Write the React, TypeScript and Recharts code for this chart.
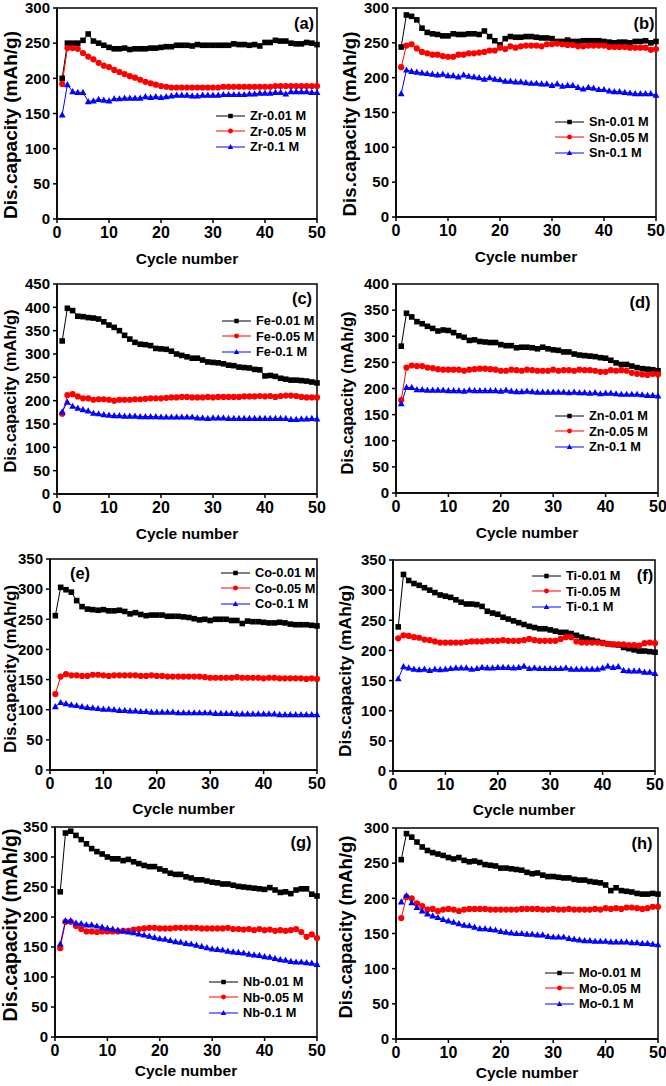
import React from "react";
import { Legend, Line, LineChart, ReferenceArea, XAxis, YAxis } from "recharts";

const FONT = '"Liberation Sans", Arial, Helvetica, sans-serif';

const cycles = [
  1, 2, 3, 4, 5, 6, 7, 8, 9, 10, 11, 12, 13, 14, 15, 16, 17, 18, 19, 20, 21, 22, 23, 24, 25,
  26, 27, 28, 29, 30, 31, 32, 33, 34, 35, 36, 37, 38, 39, 40, 41, 42, 43, 44, 45, 46, 47, 48, 49, 50,
];
const xTicks = [0, 10, 20, 30, 40, 50];

// (a) Zr
const zr001 = [200, 250, 250, 250, 254, 263, 253, 250, 247, 244, 242, 242, 243, 241, 242, 242, 242, 243, 243, 244, 245, 245, 247, 247, 247, 246, 248, 247, 247, 247, 247, 247, 247, 249, 248, 248, 247, 248, 246, 251, 251, 254, 253, 253, 250, 249, 249, 251, 250, 248];
const zr005 = [192, 243, 243, 242, 236, 231, 227, 222, 218, 216, 212, 209, 206, 203, 201, 198, 195, 193, 191, 189, 188, 187, 187, 187, 187, 187, 187, 187, 187, 187, 187, 188, 188, 188, 188, 188, 188, 188, 188, 188, 188, 189, 189, 189, 189, 189, 189, 189, 189, 189];
const zr01 = [148, 191, 181, 180, 180, 167, 168, 170, 169, 168, 171, 171, 172, 172, 172, 172, 174, 173, 174, 173, 174, 175, 176, 176, 176, 175, 175, 176, 176, 176, 176, 177, 177, 177, 177, 177, 178, 178, 179, 179, 179, 180, 180, 178, 181, 181, 181, 181, 180, 180];

// (b) Sn
const sn001 = [244, 290, 288, 283, 271, 265, 263, 262, 260, 260, 263, 262, 262, 263, 263, 262, 267, 259, 253, 247, 256, 259, 258, 258, 259, 259, 258, 257, 257, 256, 252, 252, 254, 252, 252, 253, 253, 253, 253, 252, 251, 250, 251, 251, 250, 252, 252, 253, 250, 252];
const sn005 = [215, 246, 248, 242, 237, 235, 233, 233, 231, 230, 230, 233, 233, 235, 235, 236, 237, 239, 239, 243, 241, 245, 243, 245, 246, 246, 246, 245, 248, 248, 249, 248, 247, 247, 245, 245, 246, 246, 246, 246, 244, 244, 244, 244, 243, 243, 243, 243, 240, 241];
const sn01 = [177, 211, 209, 208, 207, 206, 205, 204, 205, 203, 203, 201, 204, 202, 201, 200, 198, 200, 198, 197, 195, 195, 194, 194, 193, 192, 192, 191, 191, 189, 191, 188, 189, 189, 186, 184, 186, 185, 183, 183, 181, 180, 180, 179, 178, 177, 177, 177, 177, 175];

// (c) Fe
const fe001 = [328, 398, 393, 381, 380, 378, 377, 375, 369, 362, 357, 350, 340, 332, 325, 321, 320, 318, 312, 311, 310, 306, 300, 297, 294, 291, 291, 287, 283, 282, 281, 279, 276, 275, 272, 271, 270, 267, 266, 253, 254, 252, 248, 246, 244, 244, 243, 242, 240, 238];
const fe005 = [172, 212, 214, 209, 205, 205, 202, 203, 203, 202, 200, 202, 202, 202, 203, 203, 204, 205, 205, 205, 206, 207, 207, 208, 208, 207, 207, 207, 208, 207, 208, 208, 208, 208, 208, 209, 209, 209, 210, 209, 210, 208, 210, 211, 211, 210, 208, 207, 207, 207];
const fe01 = [176, 197, 188, 184, 181, 178, 173, 172, 170, 169, 168, 168, 167, 167, 167, 166, 166, 166, 166, 165, 165, 165, 165, 165, 165, 165, 163, 163, 162, 163, 163, 163, 162, 162, 162, 162, 162, 162, 162, 162, 162, 162, 162, 162, 160, 160, 161, 161, 162, 161];

// (d) Zn
const zn001 = [281, 344, 337, 328, 324, 319, 315, 310, 312, 311, 307, 301, 298, 292, 293, 290, 289, 288, 288, 284, 282, 282, 278, 279, 279, 278, 276, 279, 276, 274, 273, 270, 270, 266, 264, 263, 262, 261, 259, 258, 254, 249, 246, 246, 243, 240, 238, 237, 236, 234];
const zn005 = [178, 240, 244, 243, 243, 240, 239, 237, 236, 236, 236, 236, 234, 236, 237, 238, 238, 237, 236, 234, 234, 236, 235, 234, 236, 235, 234, 234, 234, 236, 234, 235, 235, 234, 236, 235, 235, 234, 232, 232, 235, 234, 235, 234, 230, 228, 227, 226, 228, 227];
const zn01 = [171, 202, 202, 198, 198, 197, 197, 197, 197, 196, 196, 196, 195, 197, 196, 196, 196, 196, 196, 195, 197, 195, 194, 194, 195, 194, 193, 193, 193, 193, 193, 193, 192, 193, 192, 192, 191, 192, 190, 191, 191, 190, 189, 189, 189, 189, 188, 187, 187, 186];

// (e) Co
const co001 = [256, 303, 299, 295, 281, 271, 267, 266, 265, 266, 264, 264, 265, 263, 259, 261, 258, 256, 257, 257, 257, 255, 255, 255, 254, 253, 251, 249, 250, 248, 250, 250, 250, 248, 248, 243, 247, 246, 246, 245, 244, 244, 245, 244, 242, 241, 241, 241, 240, 239];
const co005 = [126, 155, 159, 157, 157, 156, 156, 158, 158, 157, 156, 157, 157, 157, 157, 157, 156, 156, 157, 156, 156, 155, 155, 155, 155, 155, 155, 155, 154, 153, 153, 153, 153, 153, 154, 153, 153, 153, 153, 152, 153, 153, 152, 152, 152, 152, 152, 151, 152, 151];
const co01 = [105, 112, 110, 108, 107, 105, 104, 103, 102, 101, 101, 100, 99, 99, 98, 98, 97, 97, 96, 96, 96, 96, 96, 95, 95, 95, 95, 95, 95, 95, 94, 94, 94, 94, 93, 93, 93, 93, 93, 93, 93, 93, 92, 92, 92, 92, 92, 92, 92, 92];

// (f) Ti
const ti001 = [239, 326, 316, 311, 308, 304, 300, 296, 292, 290, 288, 284, 280, 277, 277, 276, 273, 265, 262, 260, 255, 252, 249, 246, 243, 240, 238, 236, 236, 234, 232, 230, 230, 228, 225, 222, 219, 217, 215, 213, 211, 210, 209, 205, 203, 201, 199, 199, 198, 197];
const ti005 = [220, 225, 224, 222, 221, 218, 217, 215, 213, 213, 213, 213, 213, 214, 215, 215, 215, 216, 216, 216, 217, 216, 216, 216, 217, 219, 217, 216, 216, 216, 216, 219, 222, 222, 215, 213, 213, 213, 213, 212, 211, 210, 210, 210, 209, 209, 208, 212, 213, 212];
const ti01 = [153, 173, 171, 169, 168, 169, 167, 169, 168, 169, 170, 171, 171, 171, 169, 170, 172, 171, 171, 172, 172, 172, 171, 172, 174, 170, 171, 170, 170, 170, 170, 170, 171, 169, 169, 169, 169, 169, 169, 171, 174, 172, 173, 167, 166, 166, 166, 164, 164, 162];

// (g) Nb
const nb001 = [242, 340, 343, 336, 329, 322, 314, 309, 305, 300, 297, 297, 294, 296, 292, 289, 286, 284, 284, 280, 277, 273, 271, 271, 267, 265, 262, 262, 260, 258, 257, 255, 255, 253, 251, 250, 249, 248, 247, 246, 249, 245, 241, 242, 239, 245, 247, 247, 238, 235];
const nb005 = [148, 192, 192, 185, 180, 176, 176, 175, 176, 176, 176, 176, 177, 177, 179, 180, 181, 182, 182, 181, 181, 181, 182, 182, 182, 182, 182, 181, 181, 181, 181, 181, 182, 180, 180, 179, 180, 178, 180, 178, 179, 177, 178, 177, 178, 180, 175, 167, 171, 165];
const nb01 = [155, 194, 194, 190, 189, 187, 187, 185, 183, 181, 180, 178, 177, 175, 174, 172, 170, 168, 166, 164, 163, 161, 159, 158, 156, 155, 153, 151, 149, 147, 146, 145, 143, 142, 141, 140, 138, 137, 136, 134, 133, 131, 129, 128, 126, 125, 125, 124, 123, 121];

// (h) Mo
const mo001 = [255, 292, 287, 280, 273, 268, 265, 263, 261, 258, 256, 258, 254, 252, 253, 251, 248, 247, 246, 243, 243, 242, 241, 240, 237, 235, 236, 233, 231, 231, 230, 229, 229, 227, 226, 226, 224, 223, 222, 219, 211, 215, 211, 210, 209, 207, 206, 206, 207, 206];
const mo005 = [172, 202, 200, 193, 189, 184, 185, 182, 184, 185, 184, 182, 184, 185, 185, 185, 185, 184, 184, 184, 184, 184, 184, 185, 185, 185, 185, 184, 184, 185, 184, 184, 185, 184, 184, 184, 184, 185, 184, 186, 185, 186, 185, 187, 187, 186, 185, 186, 188, 188];
const mo01 = [195, 204, 194, 187, 182, 178, 175, 173, 170, 168, 166, 164, 162, 161, 159, 157, 157, 156, 155, 153, 152, 151, 150, 150, 149, 149, 148, 148, 146, 145, 145, 145, 143, 142, 141, 140, 140, 139, 139, 139, 138, 138, 138, 138, 137, 137, 136, 136, 135, 134];

const concentrations = ["0.01 M", "0.05 M", "0.1 M"];
const seriesColors = ["#000000", "#ff0000", "#0000ff"];

type Shape = "square" | "circle" | "triangle";
const shapes: Shape[] = ["square", "circle", "triangle"];

type Panel = {
  tag: string;
  metal: string;
  yMax: number;
  values: number[][];
  plot: { l: number; r: number; t: number; b: number };
  legend: { x: number; y: number };
  tagPos: { x: number; y: number };
  yTitle: { x: number; y: number; size: number };
  xTitleGap: number;
};

const panels: Panel[] = [
  { tag: "(a)", metal: "Zr", yMax: 300, values: [zr001, zr005, zr01], plot: { l: 57, r: 317, t: 8, b: 219 }, legend: { x: 216, y: 116 }, tagPos: { x: 304, y: 23 }, yTitle: { x: 10, y: 125, size: 19 }, xTitleGap: 39 },
  { tag: "(b)", metal: "Sn", yMax: 300, values: [sn001, sn005, sn01], plot: { l: 396, r: 656, t: 8, b: 217 }, legend: { x: 555, y: 122 }, tagPos: { x: 644, y: 23 }, yTitle: { x: 349, y: 124, size: 18.7 }, xTitleGap: 39 },
  { tag: "(c)", metal: "Fe", yMax: 450, values: [fe001, fe005, fe01], plot: { l: 57, r: 317, t: 284, b: 494 }, legend: { x: 222, y: 321 }, tagPos: { x: 302, y: 298 }, yTitle: { x: 10, y: 391, size: 16.5 }, xTitleGap: 39 },
  { tag: "(d)", metal: "Zn", yMax: 400, values: [zn001, zn005, zn01], plot: { l: 396, r: 658, t: 284, b: 493 }, legend: { x: 555, y: 416 }, tagPos: { x: 640, y: 302 }, yTitle: { x: 347, y: 393, size: 16.5 }, xTitleGap: 39 },
  { tag: "(e)", metal: "Co", yMax: 350, values: [co001, co005, co01], plot: { l: 50, r: 317, t: 559, b: 770 }, legend: { x: 221, y: 573 }, tagPos: { x: 80, y: 573 }, yTitle: { x: 10, y: 669, size: 17 }, xTitleGap: 38 },
  { tag: "(f)", metal: "Ti", yMax: 350, values: [ti001, ti005, ti01], plot: { l: 393, r: 655, t: 560, b: 771 }, legend: { x: 532, y: 576 }, tagPos: { x: 645, y: 575 }, yTitle: { x: 345, y: 671, size: 17.4 }, xTitleGap: 38 },
  { tag: "(g)", metal: "Nb", yMax: 350, values: [nb001, nb005, nb01], plot: { l: 55, r: 317, t: 827, b: 1037 }, legend: { x: 209, y: 982 }, tagPos: { x: 301, y: 842 }, yTitle: { x: 10, y: 925, size: 19.5 }, xTitleGap: 33 },
  { tag: "(h)", metal: "Mo", yMax: 300, values: [mo001, mo005, mo01], plot: { l: 396, r: 658, t: 828, b: 1039 }, legend: { x: 545, y: 973 }, tagPos: { x: 642, y: 843 }, yTitle: { x: 345, y: 927, size: 18.5 }, xTitleGap: 33 },
];

function Marker({ shape, cx, cy, color, s = 1 }: { shape: Shape; cx: number; cy: number; color: string; s?: number }) {
  if (shape === "square") {
    return <rect x={cx - 2.8 * s} y={cy - 2.8 * s} width={5.6 * s} height={5.6 * s} fill={color} />;
  }
  if (shape === "circle") {
    return <circle cx={cx} cy={cy} r={3.1 * s} fill={color} />;
  }
  return (
    <polygon
      points={`${cx},${cy - 3.6 * s} ${cx + 3.4 * s},${cy + 2.6 * s} ${cx - 3.4 * s},${cy + 2.6 * s}`}
      fill={color}
    />
  );
}

const TOP_PAD = 14;
const X_AXIS_H = 50;

function PanelChart({ p }: { p: Panel }) {
  const chartLeft = p.plot.l > 333 ? 333 : 0;
  const chartTop = p.plot.t - TOP_PAD;
  const width = 333;
  const height = TOP_PAD + (p.plot.b - p.plot.t) + X_AXIS_H;
  const yTicks: number[] = [];
  for (let v = 0; v <= p.yMax; v += 50) yTicks.push(v);

  const data = cycles.map((c, i) => ({ cycle: c, s0: p.values[0][i], s1: p.values[1][i], s2: p.values[2][i] }));
  const names = concentrations.map((c) => `${p.metal}-${c}`);

  const xTitleX = (p.plot.l + p.plot.r) / 2 - chartLeft;
  const xTitleY = p.plot.b + p.xTitleGap - chartTop;

  return (
    <div style={{ position: "absolute", left: chartLeft, top: chartTop }}>
      <LineChart
        width={width}
        height={height}
        data={data}
        margin={{ top: TOP_PAD, right: width - (p.plot.r - chartLeft), bottom: 0, left: 0 }}
      >
        <XAxis
          dataKey="cycle"
          type="number"
          domain={[0, 50]}
          ticks={xTicks}
          height={X_AXIS_H}
          stroke="#000"
          strokeWidth={1.5}
          tickSize={4}
          tickMargin={4}
          tick={{ fill: "#000", fontSize: 16, fontWeight: 700, fontFamily: FONT }}
          label={{
            content: () => (
              <text
                x={xTitleX}
                y={xTitleY}
                textAnchor="middle"
                dominantBaseline="central"
                fill="#000"
                fontSize={15.5}
                fontWeight={700}
                fontFamily={FONT}
              >
                Cycle number
              </text>
            ),
          }}
        />
        <YAxis
          type="number"
          domain={[0, p.yMax]}
          ticks={yTicks}
          width={p.plot.l - chartLeft}
          stroke="#000"
          strokeWidth={1.5}
          tickSize={4}
          tickMargin={3}
          tick={{ fill: "#000", fontSize: 15, fontWeight: 700, fontFamily: FONT }}
          label={{
            content: () => (
              <text
                transform={`translate(${p.yTitle.x - chartLeft},${p.yTitle.y - chartTop}) rotate(-90)`}
                textAnchor="middle"
                dominantBaseline="central"
                fill="#000"
                fontSize={p.yTitle.size}
                fontWeight={700}
                fontFamily={FONT}
              >
                Dis.capacity (mAh/g)
              </text>
            ),
          }}
        />
        <ReferenceArea x1={0} x2={50} y1={0} y2={p.yMax} fill="none" stroke="#000" strokeWidth={1.5} />
        {[0, 1, 2].map((k) => (
          <Line
            key={k}
            dataKey={`s${k}`}
            name={names[k]}
            stroke={seriesColors[k]}
            strokeWidth={1}
            isAnimationActive={false}
            dot={(d: any) => (
              <Marker key={`d${k}-${d.index}`} shape={shapes[k]} cx={d.cx} cy={d.cy} color={seriesColors[k]} />
            )}
            activeDot={false}
          />
        ))}
        <Legend
          layout="vertical"
          align="center"
          verticalAlign="middle"
          wrapperStyle={{ left: p.legend.x - chartLeft, top: p.legend.y - chartTop - 8, width: 120, height: 48 }}
          content={() => (
            <div style={{ fontFamily: FONT, fontWeight: 700, fontSize: 12.8, color: "#000" }}>
              {names.map((n, k) => (
                <div key={n} style={{ display: "flex", alignItems: "center", height: 15.5 }}>
                  <svg width={29} height={10} style={{ overflow: "visible" }}>
                    <line x1={0} y1={5} x2={29} y2={5} stroke={seriesColors[k]} strokeWidth={1} />
                    <Marker shape={shapes[k]} cx={14.5} cy={5} color={seriesColors[k]} s={0.8} />
                  </svg>
                  <span style={{ marginLeft: 5, whiteSpace: "nowrap" }}>{n}</span>
                </div>
              ))}
            </div>
          )}
        />
      </LineChart>
      <div
        style={{
          position: "absolute",
          left: p.tagPos.x - chartLeft,
          top: p.tagPos.y - chartTop,
          transform: "translate(-50%, -50%)",
          fontFamily: FONT,
          fontWeight: 700,
          fontSize: 16.5,
          color: "#000",
        }}
      >
        {p.tag}
      </div>
    </div>
  );
}

export default function App() {
  return (
    <div style={{ position: "absolute", left: 0, top: 0, width: 666, height: 1086, background: "#fff", overflow: "hidden" }}>
      {panels.map((p) => (
        <PanelChart key={p.tag} p={p} />
      ))}
    </div>
  );
}
